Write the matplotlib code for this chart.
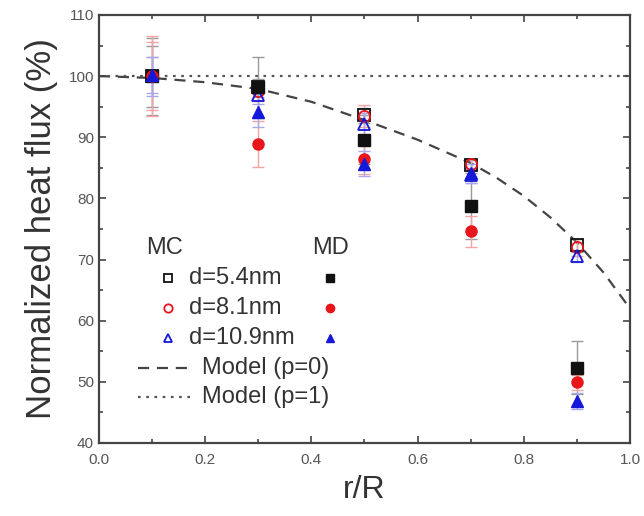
import matplotlib
matplotlib.use("Agg")
import matplotlib.pyplot as plt
from matplotlib.ticker import MultipleLocator

plt.rcParams['font.family'] = ['Liberation Sans', 'DejaVu Sans']

# data
r = [0.1, 0.3, 0.5, 0.7, 0.9]
labels = ['d=5.4nm', 'd=8.1nm', 'd=10.9nm']
colors = ['#111111', '#e8151b', '#1418d8']
err_colors = ['#9a9a9a', '#f2a3a3', '#a8a8ee']

mc_vals = [[100.0, 98.3, 93.6, 85.5, 72.3],
           [100.0, 97.5, 93.4, 85.6, 72.0],
           [100.0, 96.9, 92.1, 83.8, 70.6]]
mc_errs = [[6.3, 1.2, 1.2, 0.8, 1.0],
           [6.5, 1.5, 1.8, 0.8, 1.4],
           [3.2, 1.5, 1.8, 1.2, 1.0]]

md_vals = [[100.0, 98.2, 89.6, 78.7, 52.3],
           [100.0, 88.9, 86.5, 74.6, 49.9],
           [100.2, 94.1, 85.7, 84.1, 46.9]]
md_errs = [[5.0, 5.0, 4.0, 5.4, 4.3],
           [5.5, 3.8, 2.5, 2.5, 1.2],
           [3.0, 2.5, 2.0, 1.5, 1.3]]

# model curves (read from the dashed / dotted lines)
model0_r = [0.0, 0.1, 0.2, 0.3, 0.4, 0.5, 0.6, 0.7, 0.75, 0.8, 0.85, 0.9, 0.95, 1.0]
model0_v = [100.0, 99.7, 99.0, 97.9, 95.8, 92.8, 89.6, 85.8, 83.3, 80.4, 76.9, 72.8, 67.9, 62.0]
model1_r = [0.0, 1.0]
model1_v = [100.0, 100.0]

fig = plt.figure(figsize=(6.44, 5.16), dpi=100)
ax = fig.add_axes([0.1537, 0.1415, 0.8245, 0.8295])

ax.plot(model0_r, model0_v, ls=(0, (5, 3.5)), color='#444444', lw=1.6, zorder=1)
ax.plot(model1_r, model1_v, ls=(0, (1.2, 2.5)), color='#555555', lw=1.6, zorder=1)

mc_markers = ['s', 'o', '^']
for i in range(3):
    ax.errorbar(r, mc_vals[i], yerr=mc_errs[i], fmt='none', ecolor=err_colors[i],
                elinewidth=1.0, capsize=4, capthick=1.0, zorder=2)
    ax.errorbar(r, md_vals[i], yerr=md_errs[i], fmt='none', ecolor=err_colors[i],
                elinewidth=1.0, capsize=4, capthick=1.0, zorder=2)
for i in range(3):
    ax.plot(r, mc_vals[i], ls='none', marker=mc_markers[i], ms=8, mfc='none',
            mec=colors[i], mew=1.3, zorder=3)
    ax.plot(r, md_vals[i], ls='none', marker=mc_markers[i], ms=8, color=colors[i],
            mec=colors[i], zorder=4)

ax.set_xlim(0.0, 1.0)
ax.set_ylim(40, 110)
ax.xaxis.set_major_locator(MultipleLocator(0.2))
ax.xaxis.set_minor_locator(MultipleLocator(0.1))
ax.yaxis.set_major_locator(MultipleLocator(10))
ax.yaxis.set_minor_locator(MultipleLocator(5))
ax.xaxis.set_major_formatter(plt.FuncFormatter(lambda v, p: f'{v:.1f}'))
ax.tick_params(which='both', direction='in', top=True, right=True,
               labelsize=11, labelcolor='#555555', color='#444444', width=1.2)
ax.tick_params(which='major', length=5)
ax.tick_params(which='minor', length=3)
ax.tick_params(axis='x', pad=7)
for s in ax.spines.values():
    s.set_linewidth(1.6)
    s.set_color('#444444')

ax.set_xlabel('r/R', fontsize=23, color='#333333', labelpad=6)
ax.set_ylabel('Normalized heat flux (%)', fontsize=25, color='#333333', labelpad=8)

# hand-built two-column legend
def ax_pt(px, py):
    return ((px - 99) / 531.0, (443 - py) / 428.0)

tc = '#333333'
ax.text(*ax_pt(146, 248), 'MC', transform=ax.transAxes, fontsize=17, color=tc,
        va='center', ha='left')
ax.text(*ax_pt(312, 248), 'MD', transform=ax.transAxes, fontsize=17, color=tc,
        va='center', ha='left')
rows_y = [278, 308, 338]
for i in range(3):
    x0, y0 = ax_pt(168, rows_y[i])
    ax.plot([x0], [y0], transform=ax.transAxes, marker=mc_markers[i], ms=6,
            mfc='none', mec=colors[i], mew=1.3, ls='none', clip_on=False)
    ax.text(*ax_pt(189, rows_y[i]), labels[i], transform=ax.transAxes,
            fontsize=17, color=tc, va='center', ha='left')
    x1, y1 = ax_pt(330, rows_y[i])
    ax.plot([x1], [y1], transform=ax.transAxes, marker=mc_markers[i], ms=6,
            color=colors[i], ls='none', clip_on=False)

xa, ya = ax_pt(138, 368)
xb, _ = ax_pt(192, 368)
ax.plot([xa, xb], [ya, ya], transform=ax.transAxes, ls=(0, (5, 3.5)),
        color='#444444', lw=1.6)
ax.text(*ax_pt(202, 368), 'Model (p=0)', transform=ax.transAxes, fontsize=17,
        color=tc, va='center', ha='left')
xa, ya = ax_pt(138, 397)
xb, _ = ax_pt(192, 397)
ax.plot([xa, xb], [ya, ya], transform=ax.transAxes, ls=(0, (1.2, 2.5)),
        color='#555555', lw=1.6)
ax.text(*ax_pt(202, 397), 'Model (p=1)', transform=ax.transAxes, fontsize=17,
        color=tc, va='center', ha='left')

fig.savefig('out.png', dpi=100)
